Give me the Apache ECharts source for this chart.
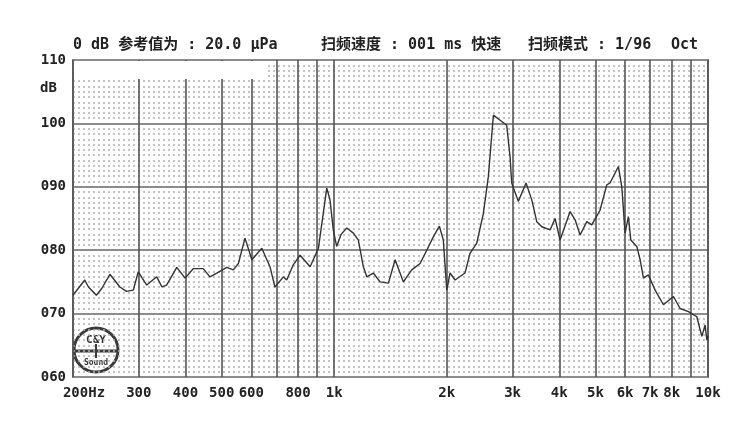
<!DOCTYPE html>
<html><head><meta charset="utf-8">
<script src="https://cdn.jsdelivr.net/npm/echarts@6/dist/echarts.min.js"></script>
<style>html,body{margin:0;padding:0;background:#fff}#c{width:750px;height:432px}</style>
</head><body><div id="c"></div>
<script>
// frequency (Hz) of each trace point
const freqs = [200,215,220,231,239,251,267,278,290,299,315,335,346,356,379,399,420,446,465,485,516,537,554,577,602,640,673,694,731,746,777,810,862,907,955,974,994,1015,1043,1080,1125,1160,1196,1222,1272,1326,1396,1455,1531,1612,1697,1768,1841,1911,1958,2000,2041,2105,2238,2308,2406,2506,2584,2666,2778,2894,2954,2984,3108,3260,3378,3482,3592,3780,3898,4020,4276,4410,4548,4740,4886,5142,5360,5470,5758,5880,6000,6124,6216,6450,6582,6718,6928,7220,7598,8082,8422,8864,9334,9626,9824,9928,10000];
// sound pressure level (dB) at each frequency
const levels = [72.9,75.3,74.2,72.9,74.0,76.2,74.2,73.5,73.7,76.6,74.5,75.8,74.2,74.5,77.3,75.6,77.1,77.1,75.8,76.4,77.3,76.9,77.9,81.9,78.5,80.3,77.4,74.2,75.8,75.3,77.7,79.2,77.4,80.3,89.8,88.0,83.2,80.6,82.5,83.5,82.7,81.6,77.4,75.8,76.4,75.0,74.8,78.5,75.0,76.9,77.9,80.0,82.1,83.8,81.6,73.7,76.4,75.3,76.4,79.5,81.1,85.8,91.6,101.3,100.5,99.7,94.7,90.6,87.7,90.6,87.9,84.5,83.7,83.2,85.0,81.6,86.1,84.8,82.4,84.5,84.0,86.3,90.3,90.6,93.2,90.0,82.7,85.3,81.6,80.6,78.5,75.6,76.1,73.7,71.4,72.7,70.8,70.3,69.5,66.4,68.2,65.8,66.5];
// x grid lines and labels
const gridFreqs = [200,300,400,500,600,700,800,900,1000,2000,3000,4000,5000,6000,7000,8000,9000,10000];
const labelFreqs = [200,300,400,500,600,800,1000,2000,3000,4000,5000,6000,7000,8000,10000];
const xLabels = ['200Hz','300','400','500','600','800','1k','2k','3k','4k','5k','6k','7k','8k','10k'];
// y ticks
const yTicks = [60,70,80,90,100,110];
const yLabels = ['060','070','080','090','100','110'];

const L = v => Math.log10(v);
const MONO = "'DejaVu Sans Mono','Liberation Mono','Noto Sans CJK SC',monospace";
const chart = echarts.init(document.getElementById('c'), null, {renderer:'canvas'});
const option = {
  backgroundColor:'#fff',
  animation:false,
  grid:{left:73,right:42,top:60,bottom:55,show:true,borderColor:'#7a7a7a',borderWidth:2,backgroundColor:'transparent'},
  xAxis:{
    type:'value', min:L(200), max:L(10000),
    axisLine:{show:false},
    axisTick:{show:false, customValues:gridFreqs.map(L)},
    axisLabel:{
      customValues:labelFreqs.map(L), margin:9,
      color:'#222', fontFamily:MONO, fontWeight:'bold', fontSize:14,
      formatter:function(v){const f=Math.round(Math.pow(10,v));const i=labelFreqs.indexOf(f);if(i===0)return '{s|'+xLabels[0]+'}';return i>=0?xLabels[i]:'';},
      rich:{s:{padding:[0,0,0,22],color:'#222',fontFamily:MONO,fontWeight:'bold',fontSize:14}}
    },
    splitLine:{show:true,lineStyle:{color:'#555',width:1.6}}
  },
  yAxis:{
    type:'value', min:60, max:110, interval:10,
    axisLine:{show:false}, axisTick:{show:false},
    axisLabel:{margin:7,color:'#222',fontFamily:MONO,fontWeight:'bold',fontSize:14,
      formatter:v=>{const i=yTicks.indexOf(Math.round(v));return i>=0?yLabels[i]:'';}},
    splitLine:{show:true,lineStyle:{color:'#8c8c8c',width:2}},
    minorTick:{show:false,splitNumber:12},
    minorSplitLine:{show:true,lineStyle:{color:'#b0b0b0',width:1.5,type:[2,3]}}
  },
  series:[{
    type:'line', showSymbol:false, symbol:'none',
    data:freqs.map((f,i)=>[L(f),levels[i]]),
    lineStyle:{color:'#333',width:1.4},
    z:5
  }],
  graphic:[
    {type:'rect',z:10,shape:{x:74,y:61,width:194,height:18},style:{fill:'#fff'}},
    {type:'text',z:20,left:73,top:38,style:{text:'0 dB 参考值为 : 20.0 μPa',fill:'#222',font:"bold 15px "+MONO}},
    {type:'text',z:20,left:321,top:38,style:{text:'扫频速度 : 001 ms 快速',fill:'#222',font:"bold 15px "+MONO}},
    {type:'text',z:20,left:528,top:38,style:{text:'扫频模式 : 1/96',fill:'#222',font:"bold 15px "+MONO}},
    {type:'text',z:20,left:671,top:38,style:{text:'Oct',fill:'#222',font:"bold 15px "+MONO}},
    {type:'text',z:20,left:40,top:81,style:{text:'dB',fill:'#222',font:"bold 14px "+MONO}},
    {type:'group',z:20,children:[
      {type:'circle',shape:{cx:96,cy:350,r:22},style:{fill:'#fff',stroke:'#3a3a3a',lineWidth:3}},
      {type:'line',shape:{x1:75,y1:351,x2:117,y2:351},style:{stroke:'#3a3a3a',lineWidth:3}},
      {type:'line',shape:{x1:96,y1:344,x2:96,y2:358},style:{stroke:'#3a3a3a',lineWidth:2}},
      {type:'text',x:96,y:340,style:{text:'C&Y',fill:'#333',font:"bold 11px "+MONO,align:'center',verticalAlign:'middle'}},
      {type:'text',x:96,y:363,style:{text:'Sound',fill:'#333',font:"bold 8px "+MONO,align:'center',verticalAlign:'middle'}}
    ]}
  ]
};
chart.setOption(option);
</script></body></html>
